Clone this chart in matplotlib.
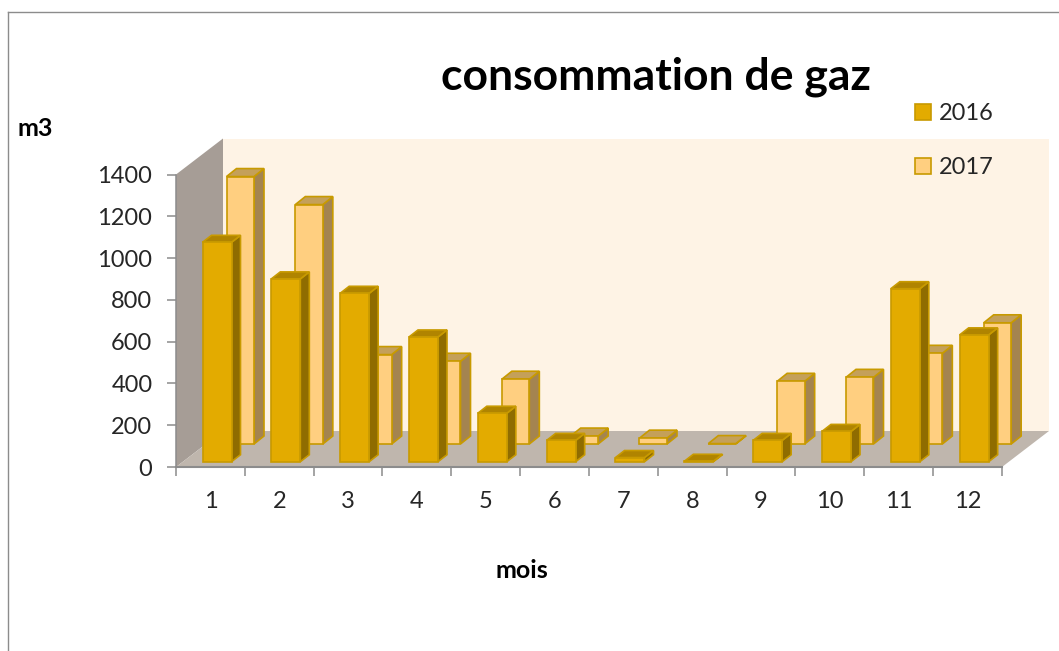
import matplotlib
matplotlib.use('Agg')
import matplotlib.pyplot as plt
from matplotlib.patches import Polygon

# --- Data ---
months = ['1', '2', '3', '4', '5', '6', '7', '8', '9', '10', '11', '12']
y_ticks = [0, 200, 400, 600, 800, 1000, 1200, 1400]
gaz_2016 = [1050, 875, 806, 597, 232, 102, 20, 2, 102, 145, 828, 607]
gaz_2017 = [1280, 1146, 428, 396, 310, 38, 28, 2, 300, 319, 434, 580]

# --- Figure geometry (pixels) ---
W, H = 1059, 651
AX_LEFT, AX_RIGHT = 176, 1002
AX_TOP, AX_BOTTOM = 174.5, 467
PX_X = 12 / (AX_RIGHT - AX_LEFT)      # months per pixel
PX_Y = 1400 / (AX_BOTTOM - AX_TOP)    # m3 per pixel
WALL_DX = 47 * PX_X
WALL_DY = 36 * PX_Y

EDGE = '#C89A00'
GRAY = '#8C8C8C'
TEXT = '#262626'
LW = 1.2

plt.rcParams['font.family'] = ['Lato', 'DejaVu Sans']

fig = plt.figure(figsize=(W / 100, H / 100), dpi=100)
ax = fig.add_axes([AX_LEFT / W, 1 - AX_BOTTOM / H,
                   (AX_RIGHT - AX_LEFT) / W, (AX_BOTTOM - AX_TOP) / H])
ax.set_xlim(0, 12)
ax.set_ylim(0, 1400)
ax.patch.set_visible(False)


def add_poly(points, color, edge='none', z=1, lw=LW):
    ax.add_patch(Polygon(points, closed=True, facecolor=color, edgecolor=edge,
                         linewidth=lw, zorder=z, clip_on=False, joinstyle='miter'))


# --- Walls and floor ---
add_poly([(WALL_DX, WALL_DY), (12 + WALL_DX, WALL_DY),
          (12 + WALL_DX, 1400 + WALL_DY), (WALL_DX, 1400 + WALL_DY)], '#FEF3E5')
add_poly([(0, 0), (0, 1400), (WALL_DX, 1400 + WALL_DY), (WALL_DX, WALL_DY)], '#A69D96')
add_poly([(0, 0), (12, 0), (12 + WALL_DX, WALL_DY), (WALL_DX, WALL_DY)], '#BFB6AD')


def draw_series(values, label, z, x_off, width, base, dx, dy, face, side, top):
    xs = [i + x_off * PX_X for i in range(len(values))]
    w = width * PX_X
    b = base * PX_Y
    ddx = dx * PX_X
    ddy = dy * PX_Y
    for i, (x, v) in enumerate(zip(xs, values)):
        # later months overlap earlier ones, same as the depth order in the chart
        zi = z + i * 0.01
        add_poly([(x + w, b), (x + w, b + v), (x + w + ddx, b + v + ddy),
                  (x + w + ddx, b + ddy)], side, EDGE, zi)
        add_poly([(x, b + v), (x + w, b + v), (x + w + ddx, b + v + ddy),
                  (x + ddx, b + v + ddy)], top, EDGE, zi)
        ax.bar(x, v, width=w, bottom=b, align='edge', color=face, edgecolor=EDGE,
               linewidth=LW, zorder=zi, clip_on=False,
               label=label if i == 0 else None)


draw_series(gaz_2017, '2017', 3, 50.5, 27.5, 23, 10, 8, '#FFCF80', '#A48450', '#C4A05A')
draw_series(gaz_2016, '2016', 4, 26.5, 29, 5.3, 9, 7, '#E3AB00', '#8F6C00', '#B08400')

# --- Axes ---
for name in ('top', 'right'):
    ax.spines[name].set_visible(False)
ax.spines['left'].set_color(GRAY)
ax.spines['left'].set_linewidth(1.1)
ax.spines['left'].set_zorder(2)
ax.spines['bottom'].set_color(GRAY)
ax.spines['bottom'].set_linewidth(1.5)
ax.spines['bottom'].set_zorder(2)

ax.set_yticks(y_ticks)
ax.tick_params(axis='y', length=6.5, width=1.1, color=GRAY, labelsize=17,
               labelcolor=TEXT, pad=10.5)
ax.set_xticks(range(13))
ax.set_xticklabels([])
ax.set_xticks([i + 0.5 for i in range(12)], minor=True)
ax.set_xticklabels(months, minor=True)
ax.tick_params(axis='x', which='major', length=6.5, width=1.1, color=GRAY)
ax.tick_params(axis='x', which='minor', length=0, labelsize=17, labelcolor=TEXT, pad=17.5)

# --- Text ---
fig.text(655.5 / W, 1 - 77 / H, 'consommation de gaz', fontsize=32, fontweight='bold',
         color='black', ha='center', va='center')
fig.text(35 / W, 1 - 129 / H, 'm3', fontsize=18, fontweight='bold', color='black',
         ha='center', va='center')
fig.text(522 / W, 1 - 571 / H, 'mois', fontsize=18, fontweight='bold', color='black',
         ha='center', va='center')

# --- Legend ---
handles, labels = ax.get_legend_handles_labels()
order = [labels.index('2016'), labels.index('2017')]
leg = ax.legend([handles[i] for i in order], [labels[i] for i in order],
                loc='upper left', bbox_to_anchor=(894 / W, 1 - 82 / H),
                bbox_transform=fig.transFigure, frameon=False, fontsize=17,
                handlelength=0.68, handleheight=0.68, handletextpad=0.3,
                labelspacing=1.4, borderpad=0.4)
for t in leg.get_texts():
    t.set_color(TEXT)
leg.set_zorder(10)

# --- Outer frame, only top and left are in the picture ---
fig.add_artist(plt.Line2D([7.5 / W, 7.5 / W], [0, 1 - 11.7 / H], color=GRAY, lw=1))
fig.add_artist(plt.Line2D([7.5 / W, 1], [1 - 11.7 / H, 1 - 11.7 / H], color=GRAY, lw=1))

fig.savefig('out.png', dpi=100)
